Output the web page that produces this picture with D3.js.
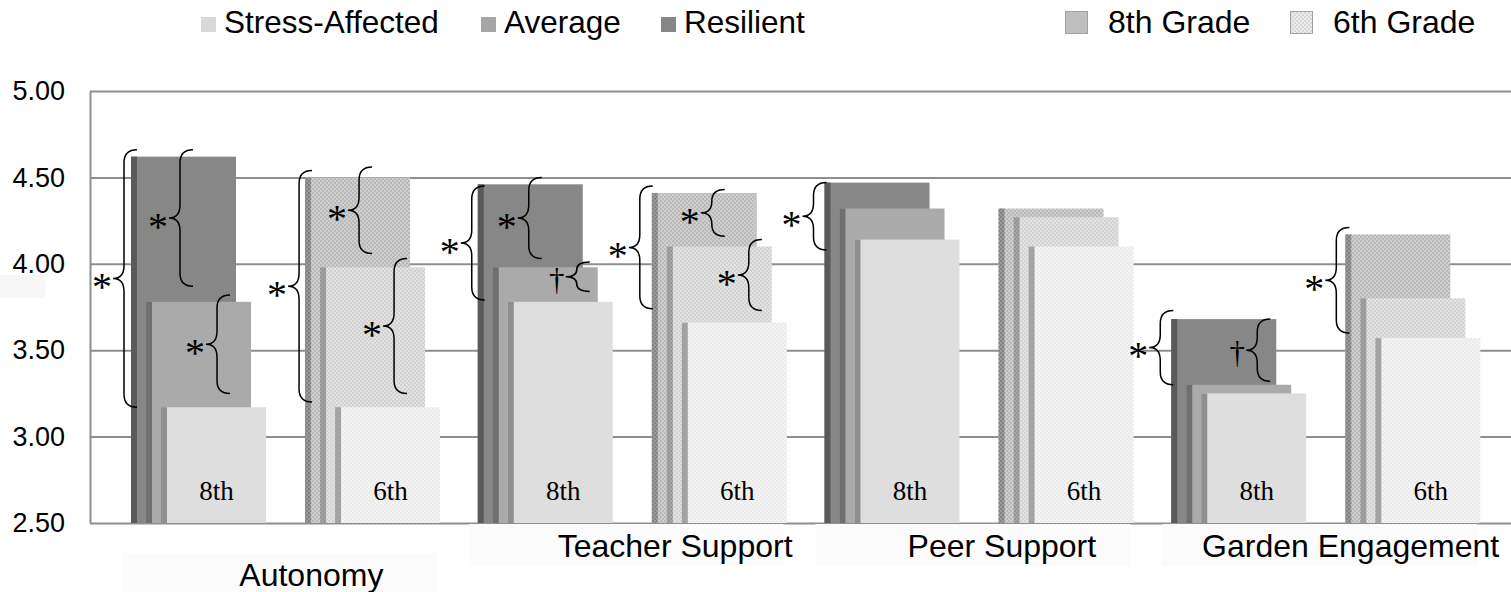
<!DOCTYPE html>
<html>
<head>
<meta charset="utf-8">
<script src="https://cdn.jsdelivr.net/npm/d3@7"></script>
<style>
  html, body { margin: 0; padding: 0; background: #fff; }
  svg { display: block; }
</style>
</head>
<body>
<svg id="chart" width="1511" height="592"></svg>
<script>
// ---------- data ----------
const categories = ["Autonomy", "Teacher Support", "Peer Support", "Garden Engagement"];
const grades = ["8th", "6th"];
const series = ["Resilient", "Average", "Stress-Affected"]; // back to front
const resilient8 = [4.62, 4.46, 4.47, 3.68];
const average8   = [3.78, 3.98, 4.32, 3.30];
const stress8    = [3.17, 3.78, 4.14, 3.25];
const resilient6 = [4.50, 4.41, 4.32, 4.17];
const average6   = [3.98, 4.10, 4.27, 3.80];
const stress6    = [3.17, 3.66, 4.10, 3.57];
const yTickValues = [2.5, 3.0, 3.5, 4.0, 4.5, 5.0];
const yTickLabels = ["2.50", "3.00", "3.50", "4.00", "4.50", "5.00"];
const legendSeries = ["Stress-Affected", "Average", "Resilient"];
const legendGrades = ["8th Grade", "6th Grade"];
// significance brackets: category, grade, from value, to value, symbol
const brackets = [
  ["Autonomy", "8th", 4.66, 3.17, "*"],
  ["Autonomy", "8th", 4.66, 3.87, "*"],
  ["Autonomy", "8th", 3.82, 3.25, "*"],
  ["Autonomy", "6th", 4.54, 3.20, "*"],
  ["Autonomy", "6th", 4.56, 4.06, "*"],
  ["Autonomy", "6th", 4.03, 3.25, "*"],
  ["Teacher Support", "8th", 4.45, 3.79, "*"],
  ["Teacher Support", "8th", 4.50, 4.03, "*"],
  ["Teacher Support", "8th", 4.01, 3.84, "\u2020"],
  ["Teacher Support", "6th", 4.45, 3.74, "*"],
  ["Teacher Support", "6th", 4.43, 4.16, "*"],
  ["Teacher Support", "6th", 4.14, 3.73, "*"],
  ["Peer Support", "8th", 4.47, 4.08, "*"],
  ["Garden Engagement", "8th", 3.73, 3.30, "*"],
  ["Garden Engagement", "8th", 3.68, 3.32, "\u2020"],
  ["Garden Engagement", "6th", 4.21, 3.60, "*"]
];

const values = {
  "8th": { "Resilient": resilient8, "Average": average8, "Stress-Affected": stress8 },
  "6th": { "Resilient": resilient6, "Average": average6, "Stress-Affected": stress6 }
};

// ---------- layout / style ----------
const W = 1511, H = 592;
const svg = d3.select("#chart");
const sans = "'Liberation Sans', Arial, sans-serif";
const serif = "'Liberation Serif', 'Times New Roman', serif";
const gridColor = "#8e8e8e";

const y = d3.scaleLinear().domain([2.5, 5]).range([523, 91]);
const x = d3.scaleBand().domain(categories).range([90, 1477]);
const xg = d3.scaleBand().domain(grades).range([0, x.bandwidth()])
  .paddingInner(0.479).paddingOuter(0.2356);
const xs = d3.scaleBand().domain(series).range([0, 45]);
const barW = 105, stripW = 6;

// patterns for 6th grade
const defs = svg.append("defs");
function checker(id, c1, c2) {
  const p = defs.append("pattern").attr("id", id).attr("patternUnits", "userSpaceOnUse")
    .attr("width", 4).attr("height", 4);
  p.append("rect").attr("width", 4).attr("height", 4).attr("fill", c1);
  p.append("rect").attr("x", 0).attr("y", 0).attr("width", 2).attr("height", 2).attr("fill", c2);
  p.append("rect").attr("x", 2).attr("y", 2).attr("width", 2).attr("height", 2).attr("fill", c2);
}
checker("p6R", "#cfcfcf", "#b9b9b9");
checker("p6Rs", "#9a9a9a", "#838383");
checker("p6A", "#e2e2e2", "#d2d2d2");
checker("p6As", "#a3a3a3", "#969696");
checker("p6S", "#f4f4f4", "#eaeaea");
checker("p6L", "#ececec", "#d6d6d6");

const fills = {
  "8th": { "Resilient": ["#878787", "#5a5a5a"], "Average": ["#aaaaaa", "#6f6f6f"], "Stress-Affected": ["#dedede", "#8f8f8f"] },
  "6th": { "Resilient": ["url(#p6R)", "url(#p6Rs)"], "Average": ["url(#p6A)", "url(#p6As)"], "Stress-Affected": ["url(#p6S)", "#a3a3a3"] }
};

// faint box at left
svg.append("rect").attr("x", 0).attr("y", 275).attr("width", 45).attr("height", 23).attr("fill", "#f7f7f7");

// ---------- axis & grid ----------
const yAxis = d3.axisLeft(y).tickValues(yTickValues)
  .tickFormat((d, i) => yTickLabels[i])
  .tickSizeInner(-(W - 90)).tickSizeOuter(0).tickPadding(25);
const gAxis = svg.append("g").attr("transform", "translate(90,0)").call(yAxis);
gAxis.select(".domain").attr("stroke", gridColor).attr("stroke-width", 2);
gAxis.selectAll(".tick line").attr("stroke", gridColor).attr("stroke-width", 2);
gAxis.selectAll(".tick text").attr("font-family", sans).attr("font-size", 27).attr("fill", "#000");

// ---------- bars ----------
const barData = [];
categories.forEach((c, ci) => {
  grades.forEach(g => {
    series.forEach(s => {
      barData.push({ c, g, s, v: values[g][s][ci] });
    });
  });
});
const gBars = svg.append("g");
const bars = gBars.selectAll("g.bar").data(barData).join("g").attr("class", "bar");
bars.append("rect")
  .attr("x", d => x(d.c) + xg(d.g) + xs(d.s))
  .attr("y", d => y(d.v))
  .attr("width", barW)
  .attr("height", d => y(2.5) - y(d.v))
  .attr("fill", d => fills[d.g][d.s][0]);
bars.append("rect")
  .attr("x", d => x(d.c) + xg(d.g) + xs(d.s))
  .attr("y", d => y(d.v))
  .attr("width", stripW)
  .attr("height", d => y(2.5) - y(d.v))
  .attr("fill", d => fills[d.g][d.s][1]);

// grade labels inside the front bar
const front = series[series.length - 1];
svg.append("g").selectAll("text").data(barData.filter(d => d.s === front)).join("text")
  .attr("x", d => x(d.c) + xg(d.g) + xs(d.s) + stripW / 2 + barW / 2)
  .attr("y", 500)
  .attr("text-anchor", "middle")
  .attr("font-family", serif).attr("font-size", 27).attr("fill", "#000")
  .text(d => d.g);

// ---------- brackets ----------
const bracketDx = [6, 62, 99, 7, 67, 102, 7, 64, 112, 1, 73, 110, 2, 2, 99, 4];
const gBr = svg.append("g");
brackets.forEach((b, i) => {
  const [c, g, from, to, sym] = b;
  const gx = x(c) + xg(g);
  const xr = gx + bracketDx[i];
  const xsp = xr - 13, xt = xsp - 11;
  const y0 = y(from), y1 = y(to), ym = (y0 + y1) / 2;
  const r = Math.min(13, (y1 - y0) / 4);
  const p = d3.path();
  p.moveTo(xr, y0);
  p.quadraticCurveTo(xsp, y0, xsp, y0 + r);
  p.lineTo(xsp, ym - r);
  p.quadraticCurveTo(xsp, ym, xt, ym);
  p.quadraticCurveTo(xsp, ym, xsp, ym + r);
  p.lineTo(xsp, y1 - r);
  p.quadraticCurveTo(xsp, y1, xr, y1);
  gBr.append("path").attr("d", p.toString()).attr("fill", "none")
    .attr("stroke", "#000").attr("stroke-width", 1.5);
  if (sym === "*") {
    gBr.append("text").attr("x", xt - 11).attr("y", ym + 3 + 0.47 * 40)
      .attr("text-anchor", "middle").attr("font-family", serif).attr("font-size", 40)
      .attr("fill", "#000").text(sym);
  } else {
    gBr.append("text").attr("x", xt - 9).attr("y", ym + 4 + 9)
      .attr("text-anchor", "middle").attr("font-family", serif).attr("font-size", 31)
      .attr("fill", "#000").text(sym);
  }
});

// ---------- category labels ----------
const labelBase = { "Autonomy": 586 };
const labelShift = { "Autonomy": 48, "Teacher Support": 65, "Peer Support": 45, "Garden Engagement": 47 };
const gLab = svg.append("g");
categories.forEach(c => {
  const cx = x(c) + x.bandwidth() / 2 + labelShift[c];
  const by = labelBase[c] || 557;
  gLab.append("rect").attr("x", x(c) + 32).attr("y", by - 33)
    .attr("width", x.bandwidth() - 32).attr("height", 42).attr("fill", "#fbfbfb");
  gLab.append("text").attr("x", cx).attr("y", by).attr("text-anchor", "middle")
    .attr("font-family", sans).attr("font-size", 32).attr("fill", "#000").text(c);
});

// ---------- legends ----------
const legColors = ["#d9d9d9", "#a6a6a6", "#868686"];
const legX = [201, 481, 661];
const gLeg = svg.append("g");
legendSeries.forEach((s, i) => {
  gLeg.append("rect").attr("x", legX[i]).attr("y", 17).attr("width", 15).attr("height", 15)
    .attr("fill", legColors[i]);
  gLeg.append("text").attr("x", legX[i] + 23).attr("y", 33)
    .attr("font-family", sans).attr("font-size", 31.5).attr("fill", "#000").text(s);
});
const gradeLegX = [1065, 1290];
const gradeLegFill = ["#bfbfbf", "url(#p6L)"];
legendGrades.forEach((s, i) => {
  gLeg.append("rect").attr("x", gradeLegX[i] + 0.5).attr("y", 11.5).attr("width", 22).attr("height", 22)
    .attr("fill", gradeLegFill[i]).attr("stroke", "#a0a0a0").attr("stroke-width", 1);
  gLeg.append("text").attr("x", gradeLegX[i] + 43).attr("y", 33)
    .attr("font-family", sans).attr("font-size", 32).attr("fill", "#000").text(s);
});
</script>
</body>
</html>
